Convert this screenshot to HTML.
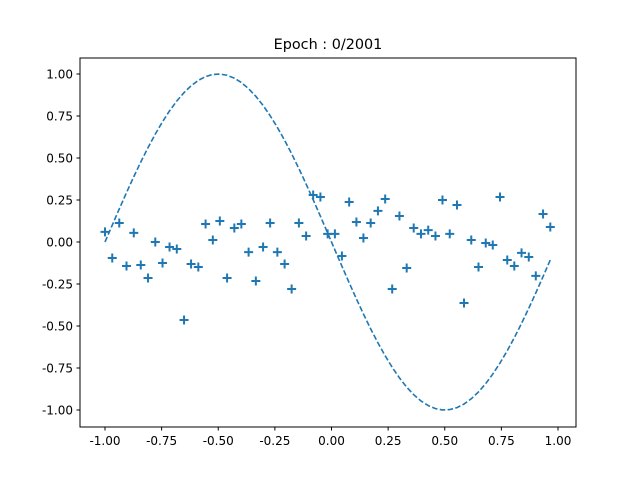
<!DOCTYPE html>
<html><head><meta charset="utf-8"><style>
body{margin:0;background:#fff}
svg text{font-family:"DejaVu Sans","Liberation Sans",sans-serif;font-size:12px;fill:#000}
</style></head><body>
<svg id="chart" width="640" height="480" viewBox="0 0 640 480" xmlns="http://www.w3.org/2000/svg">
<rect width="640" height="480" fill="#fff"/>
<text x="328" y="49" text-anchor="middle" style="font-size:14.4px">Epoch : 0/2001</text>
<g id="plot"></g>
<rect x="80" y="58" width="496" height="369" fill="none" stroke="#000" stroke-width="1"/>
</svg>
<script>
const xTicks=[-1,-0.75,-0.5,-0.25,0,0.25,0.5,0.75,1];
const yTicks=[-1,-0.75,-0.5,-0.25,0,0.25,0.5,0.75,1];
const xs=[-1.000,-0.968,-0.937,-0.905,-0.873,-0.842,-0.810,-0.778,-0.746,-0.715,-0.683,-0.651,-0.620,-0.588,-0.556,-0.524,-0.493,-0.461,-0.429,-0.398,-0.366,-0.334,-0.302,-0.271,-0.239,-0.207,-0.176,-0.144,-0.112,-0.081,-0.049,-0.017,0.015,0.046,0.078,0.110,0.141,0.173,0.205,0.237,0.268,0.300,0.332,0.363,0.395,0.427,0.459,0.490,0.522,0.554,0.585,0.617,0.649,0.681,0.712,0.744,0.776,0.807,0.839,0.871,0.902,0.934,0.966];
const ys=[0.06,-0.095,0.113,-0.143,0.054,-0.137,-0.214,0,-0.125,-0.03,-0.042,-0.464,-0.131,-0.149,0.107,0.012,0.125,-0.214,0.083,0.107,-0.06,
-0.232,-0.03,0.113,-0.06,-0.131,-0.28,0.113,0.036,0.28,0.268,0.048,0.048,-0.083,0.238,0.119,0.024,0.113,0.185,0.256,-0.28,0.155,
-0.155,0.083,0.048,0.071,0.036,0.25,0.048,0.22,-0.363,0.012,-0.149,-0.006,-0.018,0.268,-0.107,-0.143,-0.065,-0.089,-0.202,0.167,0.089];
const C="#1f77b4",NS="http://www.w3.org/2000/svg";
const X=v=>105+(v+1)*226.5, Y=v=>242-v*168;
const g=document.getElementById('plot');
function mk(t,a){const e=document.createElementNS(NS,t);for(const k in a)e.setAttribute(k,a[k]);g.appendChild(e);return e;}
xTicks.forEach(t=>{
  const l=mk('line',{x1:X(t),x2:X(t),y1:427,y2:430.5,stroke:'#000'});
  
  
  const tx=mk('text',{x:X(t),y:445,'text-anchor':'middle'});tx.textContent=t.toFixed(2);
  
  
});
yTicks.forEach(t=>{
  const l=mk('line',{x1:76.5,x2:80,y1:Y(t),y2:Y(t),stroke:'#000'});
  
  
  const tx=mk('text',{x:73,y:Y(t)+4.5,'text-anchor':'end'});tx.textContent=t.toFixed(2);
  
  
});
const d=xs.map((x,i)=>(i?'L':'M')+X(x).toFixed(2)+','+Y(-Math.sin(Math.PI*x)).toFixed(2)).join('');
const p=mk('path',{d:d,fill:'none',stroke:C,'stroke-width':1.6,'stroke-dasharray':'5.5,2.4'});


xs.forEach((x,i)=>{
  const cx=X(x),cy=Y(ys[i]);
  const m=mk('path',{d:`M${cx-4.5},${cy}H${cx+4.5}M${cx},${cy-4.5}V${cy+4.5}`,stroke:C,'stroke-width':2});
  
  
});
</script>
</body></html>
